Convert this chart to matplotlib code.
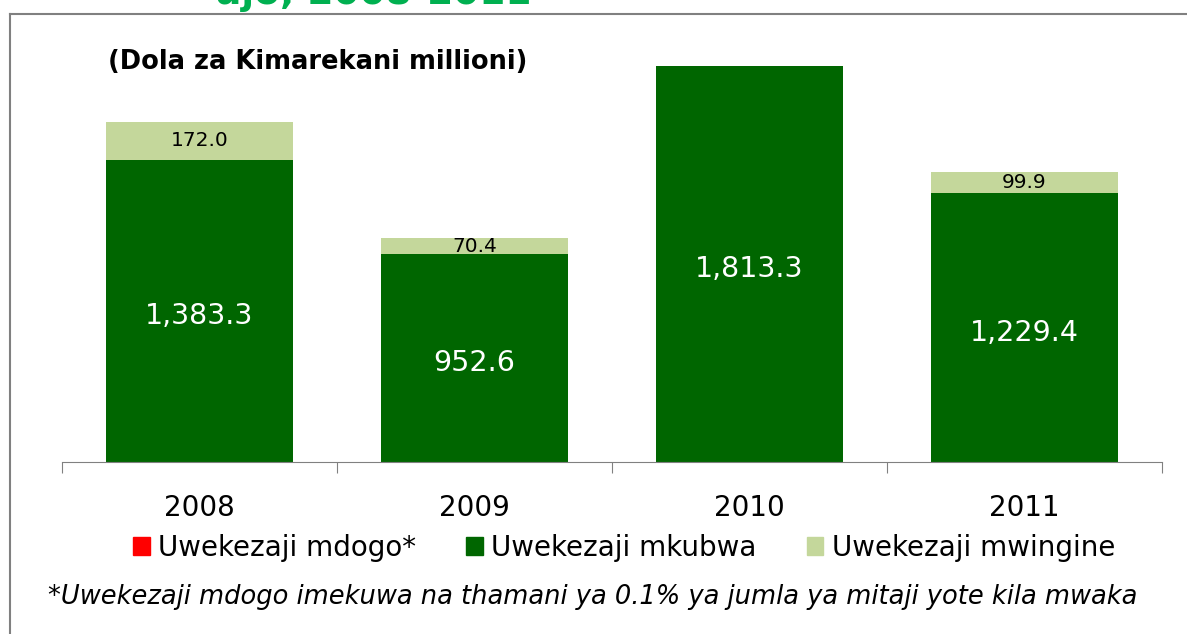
import matplotlib.pyplot as plt
from matplotlib.lines import Line2D
from matplotlib.patches import Patch
import numpy as np

years = ['2008', '2009', '2010', '2011']
mdogo = [1.6, 1.0, 1.8, 1.3]
mkubwa = [1383.3, 952.6, 1813.3, 1229.4]
mwingine = [172.0, 70.4, 0.0, 99.9]
mkubwa_labels = ['1,383.3', '952.6', '1,813.3', '1,229.4']
mwingine_labels = ['172.0', '70.4', '', '99.9']

red = '#FF0000'
dark = '#006600'
light = '#C4D79B'

fig = plt.figure(figsize=(11.87, 6.34), dpi=100)
ax = fig.add_axes([62/1187, 172/634, 1100/1187, 442/634])

x = np.arange(len(years))
w = 0.68
b1 = np.array(mdogo)
b2 = b1 + np.array(mkubwa)
ax.bar(x, mdogo, w, color=red)
ax.bar(x, mkubwa, w, bottom=b1, color=dark)
ax.bar(x, mwingine, w, bottom=b2, color=light)

for i in range(len(years)):
    ax.text(x[i], b1[i] + mkubwa[i] / 2 - 25, mkubwa_labels[i], ha='center', va='center',
            color='white', fontsize=20.5)
    if mwingine_labels[i]:
        ax.text(x[i], b2[i] + mwingine[i] / 2, mwingine_labels[i], ha='center',
                va='center', color='black', fontsize=14.5)

ax.set_xlim(-0.5, 3.5)
ax.set_ylim(0, 2025)
for s in ['top', 'right', 'left']:
    ax.spines[s].set_visible(False)
ax.spines['bottom'].set_color('#808080')
ax.set_yticks([])
ax.set_xticks(np.arange(-0.5, 4, 1))
ax.set_xticklabels([])
ax.tick_params(axis='x', length=8, color='#808080')
for i, yr in enumerate(years):
    ax.text(x[i], -0.105, yr, transform=ax.get_xaxis_transform(), ha='center',
            va='center', fontsize=20)

handles = [Patch(color=red), Patch(color=dark), Patch(color=light)]
fig.legend(handles, ['Uwekezaji mdogo*', 'Uwekezaji mkubwa', 'Uwekezaji mwingine'],
           loc='center', bbox_to_anchor=(624/1187, 1 - 548/634), ncol=3, frameon=False,
           fontsize=20, handlelength=0.6, handleheight=0.6, handletextpad=0.3,
           columnspacing=1.8)

fig.text(108/1187, 1 - 62/634, '(Dola za Kimarekani millioni)', fontsize=18.5,
         fontweight='bold', va='center')
fig.text(48/1187, 1 - 597/634,
         '*Uwekezaji mdogo imekuwa na thamani ya 0.1% ya jumla ya mitaji yote kila mwaka',
         fontsize=18.5, style='italic', va='center')
fig.text(532/1187, 1 - 4/634, 'ajo, 2008-2011', fontsize=27, fontweight='bold',
         color='#00B050', ha='right', va='baseline')

# frame around chart
fig.add_artist(Line2D([10/1187, 1], [1 - 14/634] * 2, color='#808080', lw=1.5))
fig.add_artist(Line2D([10/1187] * 2, [0, 1 - 14/634], color='#808080', lw=1.5))

fig.savefig('out.png', dpi=100)
